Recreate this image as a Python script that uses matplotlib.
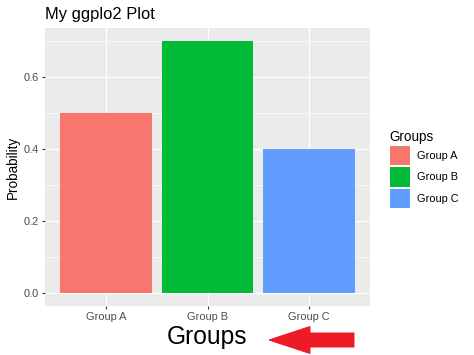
import matplotlib
matplotlib.use("Agg")
import matplotlib.pyplot as plt
from matplotlib.patches import Patch, FancyArrow
from matplotlib.transforms import IdentityTransform

# data
groups = ["Group A", "Group B", "Group C"]
probs = [0.5, 0.7, 0.4]
colors = ["#F8766D", "#00BA38", "#619CFF"]
yticks = [0.0, 0.2, 0.4, 0.6]
yminor = [0.1, 0.3, 0.5, 0.7]

plt.rcParams['font.family'] = ['Liberation Sans', 'DejaVu Sans']

W, H = 474, 355
fig = plt.figure(figsize=(W / 72, H / 72), dpi=72)
ax = fig.add_axes([45 / W, (H - 306) / H, 325 / W, 278 / H])
ax.set_facecolor("#EBEBEB")

x = list(range(1, len(groups) + 1))
ax.bar(x, probs, width=0.9, color=colors, zorder=3)

ax.set_xlim(0.4, 3.6)
ax.set_ylim(-0.035, 0.735)
ax.set_xticks(x)
ax.set_xticklabels(groups)
ax.set_yticks(yticks)
ax.set_yticklabels([f"{v:.1f}" for v in yticks])
ax.set_yticks(yminor, minor=True)

ax.grid(True, which="major", color="white", linewidth=1.3, zorder=1)
ax.grid(True, which="minor", axis="y", color="white", linewidth=0.6, zorder=1)
ax.tick_params(axis="both", which="major", length=3.4, width=1.1, color="#333333",
               labelsize=11, labelcolor="#4D4D4D", pad=2.5)
ax.tick_params(axis="both", which="minor", length=0)
for s in ax.spines.values():
    s.set_visible(False)

ax.set_ylabel("Probability", fontsize=13.5, labelpad=4)
ax.set_xlabel("Groups", fontsize=24.5, labelpad=3)
fig.text(45 / W, 1 - 14 / H, "My ggplo2 Plot", fontsize=16.5, ha="left", va="center")

handles = [Patch(facecolor=c, edgecolor="none") for c in colors]
leg = fig.legend(handles, groups, loc="upper left",
                 bbox_to_anchor=(381 / W, 1 - 121 / H), frameon=False,
                 title="Groups", title_fontsize=13.5, fontsize=11,
                 handlelength=1.8, handleheight=2.35, labelspacing=0.18,
                 handletextpad=0.7, borderpad=0.3)
leg._legend_box.align = "left"

# red arrow pointing at the axis title
fig.add_artist(FancyArrow(354, H - 340, -85, 0, width=14, head_width=27,
                          head_length=41, length_includes_head=True,
                          color="#ED1C24", transform=IdentityTransform()))

fig.savefig("out.png", dpi=72)
